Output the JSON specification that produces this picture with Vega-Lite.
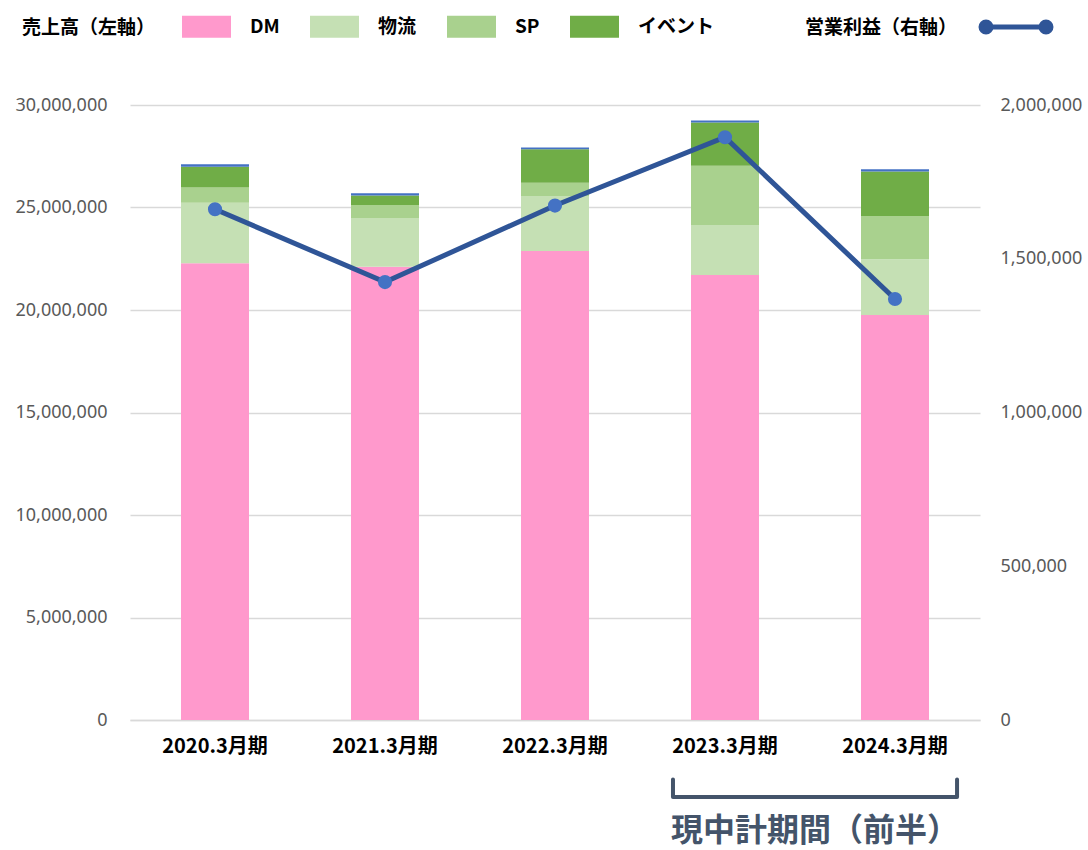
{
  "$schema": "https://vega.github.io/schema/vega-lite/v6.json",
  "width": 850,
  "height": 615,
  "autosize": {"type": "none"},
  "padding": {"left": 130, "top": 105, "right": 108, "bottom": 130},
  "background": "white",
  "config": {"view": {"stroke": null}, "font": "Noto Sans CJK JP"},
  "datasets": {
    "sales": [
      {"period": "2020.3月期", "segment": "DM", "value": 22280000},
      {"period": "2020.3月期", "segment": "物流", "value": 2950000},
      {"period": "2020.3月期", "segment": "SP", "value": 740000},
      {"period": "2020.3月期", "segment": "イベント", "value": 1020000},
      {"period": "2020.3月期", "segment": "その他", "value": 120000},
      {"period": "2021.3月期", "segment": "DM", "value": 22110000},
      {"period": "2021.3月期", "segment": "物流", "value": 2380000},
      {"period": "2021.3月期", "segment": "SP", "value": 630000},
      {"period": "2021.3月期", "segment": "イベント", "value": 460000},
      {"period": "2021.3月期", "segment": "その他", "value": 110000},
      {"period": "2022.3月期", "segment": "DM", "value": 22880000},
      {"period": "2022.3月期", "segment": "物流", "value": 2680000},
      {"period": "2022.3月期", "segment": "SP", "value": 650000},
      {"period": "2022.3月期", "segment": "イベント", "value": 1630000},
      {"period": "2022.3月期", "segment": "その他", "value": 90000},
      {"period": "2023.3月期", "segment": "DM", "value": 21710000},
      {"period": "2023.3月期", "segment": "物流", "value": 2440000},
      {"period": "2023.3月期", "segment": "SP", "value": 2890000},
      {"period": "2023.3月期", "segment": "イベント", "value": 2110000},
      {"period": "2023.3月期", "segment": "その他", "value": 100000},
      {"period": "2024.3月期", "segment": "DM", "value": 19760000},
      {"period": "2024.3月期", "segment": "物流", "value": 2710000},
      {"period": "2024.3月期", "segment": "SP", "value": 2120000},
      {"period": "2024.3月期", "segment": "イベント", "value": 2170000},
      {"period": "2024.3月期", "segment": "その他", "value": 100000}
    ],
    "profit": [
      {"period": "2020.3月期", "profit": 1661000},
      {"period": "2021.3月期", "profit": 1424000},
      {"period": "2022.3月期", "profit": 1673000},
      {"period": "2023.3月期", "profit": 1895000},
      {"period": "2024.3月期", "profit": 1369000}
    ],
    "bracket": [
      {"ord": 1, "bx": 3.194, "by": -2900000},
      {"ord": 2, "bx": 3.194, "by": -3760000},
      {"ord": 3, "bx": 4.865, "by": -3760000},
      {"ord": 4, "bx": 4.865, "by": -2900000}
    ],
    "note": [
      {"tx": 4.03, "ty": -5430000, "label": "現中計期間（前半）"}
    ]
  },
  "layer": [
    {
      "data": {"name": "sales"},
      "transform": [
        {"calculate": "indexof(['DM','物流','SP','イベント','その他'], datum.segment)", "as": "stackOrder"}
      ],
      "mark": {"type": "bar"},
      "encoding": {
        "x": {
          "field": "period", "type": "nominal",
          "scale": {"type": "band", "paddingInner": 0.6, "paddingOuter": 0.3},
          "axis": {
            "title": null, "labelAngle": 0, "ticks": false,
            "domainColor": "#D9D9D9", "domainWidth": 1.5,
            "labelFont": "Noto Sans CJK JP", "labelFontWeight": "bold",
            "labelFontSize": 20, "labelColor": "#000000", "labelPadding": 16
          }
        },
        "y": {
          "field": "value", "type": "quantitative", "stack": "zero",
          "scale": {"domain": [0, 30000000], "nice": false},
          "axis": {
            "title": null, "values": [0, 5000000, 10000000, 15000000, 20000000, 25000000, 30000000],
            "format": ",d", "domain": false, "ticks": false,
            "grid": true, "gridColor": "#D9D9D9", "gridWidth": 1.5,
            "labelFont": "Noto Sans", "labelFontSize": 18, "labelColor": "#595959",
            "labelPadding": 23
          }
        },
        "color": {
          "field": "segment", "type": "nominal",
          "sort": ["DM", "物流", "SP", "イベント", "その他"],
          "scale": {
            "domain": ["DM", "物流", "SP", "イベント", "その他"],
            "range": ["#FF99CC", "#C5E0B4", "#A9D18E", "#70AD47", "#4472C4"]
          },
          "legend": {
            "values": ["DM", "物流", "SP", "イベント"],
            "title": "売上高（左軸）",
            "titleOrient": "left",
            "titleFont": "Noto Sans CJK JP", "titleFontWeight": "bold", "titleFontSize": 19,
            "titleColor": "#000000", "titlePadding": 26,
            "labelFont": "Noto Sans CJK JP", "labelFontWeight": "bold", "labelFontSize": 19,
            "labelColor": "#000000", "labelOffset": 19,
            "symbolType": "M-1,-0.45H1V0.45H-1Z", "symbolSize": 2401, "symbolStrokeWidth": 0,
            "direction": "horizontal", "columnPadding": 30,
            "orient": "none", "legendX": -108, "legendY": -103,
            "encode": {"title": {"update": {"dy": {"value": 8}}}}
          }
        },
        "order": {"field": "stackOrder", "type": "quantitative", "sort": "ascending"}
      }
    },
    {
      "data": {"name": "profit"},
      "encoding": {
        "x": {
          "field": "period", "type": "nominal", "bandPosition": 0.5,
          "scale": {"type": "band", "paddingInner": 0.6, "paddingOuter": 0.3},
          "axis": null
        },
        "y": {
          "field": "profit", "type": "quantitative",
          "scale": {"domain": [0, 2000000], "nice": false},
          "axis": {
            "orient": "right", "title": null,
            "values": [0, 500000, 1000000, 1500000, 2000000],
            "format": ",d", "domain": false, "ticks": false, "grid": false,
            "labelFont": "Noto Sans", "labelFontSize": 18, "labelColor": "#595959",
            "labelPadding": 20
          }
        }
      },
      "layer": [
        {
          "mark": {"type": "line", "strokeWidth": 5},
          "encoding": {
            "stroke": {
              "datum": "営業利益",
              "scale": {"range": ["#2F5597"]},
              "legend": {
                "title": "営業利益（右軸）",
                "titleOrient": "left",
                "titleFont": "Noto Sans CJK JP", "titleFontWeight": "bold", "titleFontSize": 19,
                "titleColor": "#000000", "titlePadding": 18,
                "labelExpr": "''", "labelOffset": 0,
                "symbolType": "M-0.8,0H0.8M-0.933,0A0.133,0.133,0,1,0,-0.667,0A0.133,0.133,0,1,0,-0.933,0ZM0.667,0A0.133,0.133,0,1,0,0.933,0A0.133,0.133,0,1,0,0.667,0Z",
                "symbolSize": 5625, "symbolStrokeWidth": 5,
                "orient": "none", "legendX": 675, "legendY": -118,
                "encode": {
                  "symbols": {"update": {"fill": {"value": "#2F5597"}, "stroke": {"value": "#2F5597"}}},
                  "title": {"update": {"dy": {"value": 14}}}
                }
              }
            }
          }
        },
        {
          "mark": {"type": "point", "filled": true, "size": 200, "color": "#4472C4", "opacity": 1}
        }
      ]
    },
    {
      "layer": [
        {
          "data": {"name": "bracket"},
          "mark": {"type": "line", "stroke": "#44546A", "strokeWidth": 4, "strokeJoin": "round", "strokeCap": "round"},
          "encoding": {
            "x": {"field": "bx", "type": "quantitative", "scale": {"domain": [0, 5], "nice": false, "zero": false}, "axis": null},
            "y": {"field": "by", "type": "quantitative", "scale": {"domain": [0, 30000000], "nice": false}, "axis": null},
            "order": {"field": "ord"}
          }
        },
        {
          "data": {"name": "note"},
          "mark": {"type": "text", "font": "Noto Sans CJK JP", "fontWeight": "bold", "fontSize": 32, "color": "#44546A", "align": "center", "baseline": "middle"},
          "encoding": {
            "x": {"field": "tx", "type": "quantitative"},
            "y": {"field": "ty", "type": "quantitative"},
            "text": {"field": "label"}
          }
        }
      ]
    }
  ],
  "resolve": {"scale": {"x": "independent", "y": "independent"}}
}
